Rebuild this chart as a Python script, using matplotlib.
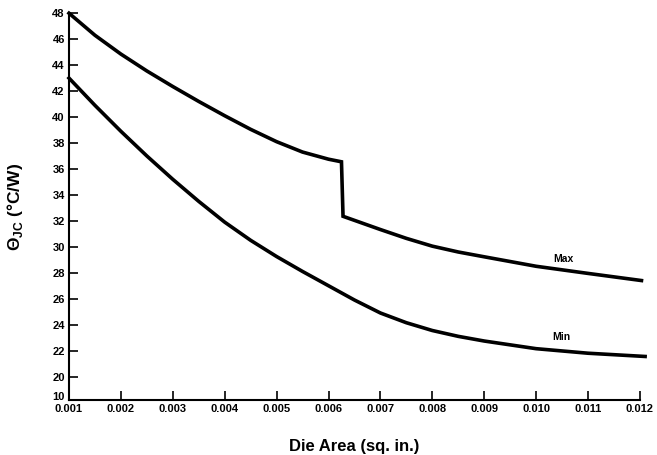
import matplotlib
matplotlib.use("Agg")
from matplotlib import pyplot as plt

plt.rcParams['font.family'] = ['Liberation Sans', 'DejaVu Sans']
plt.rcParams['mathtext.fontset'] = 'custom'
plt.rcParams['mathtext.rm'] = 'Liberation Sans:bold'
plt.rcParams['mathtext.bf'] = 'Liberation Sans:bold'

# values
max_area = [0.001, 0.0015, 0.002, 0.0025, 0.003, 0.0035, 0.004, 0.0045, 0.005,
            0.0055, 0.006, 0.00625, 0.00628, 0.007, 0.0075, 0.008, 0.0085, 0.009,
            0.010, 0.011, 0.01203]
max_theta = [48.0, 46.3, 44.85, 43.55, 42.35, 41.2, 40.1, 39.05, 38.1,
             37.3, 36.75, 36.55, 32.35, 31.33, 30.65, 30.05, 29.6, 29.23,
             28.5, 27.95, 27.4]

min_area = [0.001, 0.0015, 0.002, 0.0025, 0.003, 0.0035, 0.004, 0.0045, 0.005,
            0.0055, 0.006, 0.0065, 0.007, 0.0075, 0.008, 0.0085, 0.009, 0.010,
            0.011, 0.0121]
min_theta = [43.0, 40.9, 38.9, 37.0, 35.2, 33.5, 31.9, 30.5, 29.25,
             28.1, 27.0, 25.9, 24.9, 24.15, 23.55, 23.1, 22.74, 22.15,
             21.8, 21.55]

# broken y axis: bottom tick reads 10, the rest 20..48
y_ticks = [18.5] + list(range(20, 49, 2))
y_labels = ['10'] + [str(v) for v in range(20, 49, 2)]
x_ticks = [0.001, 0.002, 0.003, 0.004, 0.005, 0.006, 0.007, 0.008, 0.009, 0.010, 0.011, 0.012]
x_labels = ['%.3f' % v for v in x_ticks]

fig = plt.figure(figsize=(6.57, 4.55), dpi=100)
ax = fig.add_axes([0.105, 0.121, 0.869, 0.850])

ax.plot(max_area, max_theta, color='black', lw=2.6, solid_joinstyle='miter', clip_on=False)
ax.plot(min_area, min_theta, color='black', lw=2.6, clip_on=False)

ax.text(0.01052, 29.05, 'Max', fontsize=7.5, fontweight='bold', ha='center', va='center')
ax.text(0.01048, 23.05, 'Min', fontsize=7.5, fontweight='bold', ha='center', va='center')

ax.set_xlim(0.001, 0.012)
ax.set_ylim(18.2, 48)
ax.set_xticks(x_ticks)
ax.set_xticklabels(x_labels, fontsize=8, fontweight='bold')
ax.set_yticks(y_ticks)
ax.set_yticklabels(y_labels, fontsize=8, fontweight='bold')
ax.tick_params(direction='in', length=6.5, width=1.2, pad=3)
ax.yaxis.get_major_ticks()[0].tick1line.set_visible(False)

for side in ['top', 'right']:
    ax.spines[side].set_visible(False)
for side in ['left', 'bottom']:
    ax.spines[side].set_linewidth(1.5)

ax.set_xlabel('Die Area (sq. in.)', fontsize=12, fontweight='bold', labelpad=18)
ax.set_ylabel('Θ$_{\\mathbf{JC}}$ (°C/W)', fontsize=12.5, fontweight='bold', labelpad=20)

fig.savefig('out.png', dpi=100)
